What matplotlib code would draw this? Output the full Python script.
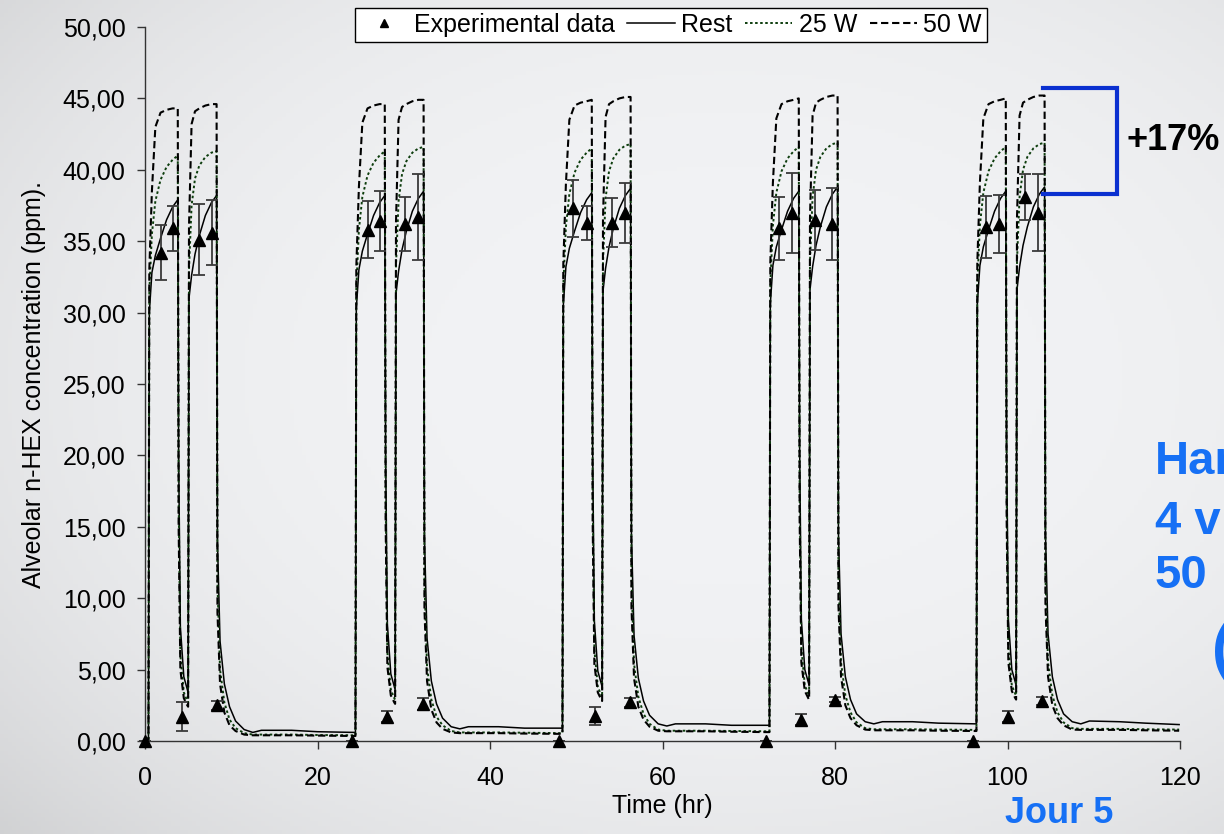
import numpy as np
import matplotlib
matplotlib.use("Agg")
import matplotlib.pyplot as plt
from matplotlib.lines import Line2D
from matplotlib.ticker import FuncFormatter

plt.rcParams['font.family'] = ['Liberation Sans', 'DejaVu Sans']

# Simulated alveolar n-hexane, five working days (hours after each day start)
day_starts = [0, 24, 48, 72, 96]
hours_in_day = [0.0, 0.4, 0.5, 0.8, 1.2, 1.8, 2.5, 3.2, 3.8, 3.9, 4.1, 4.5, 4.9, 5.0,
                5.1, 5.4, 5.8, 6.3, 7.0, 7.7, 8.3, 8.4, 8.7, 9.2, 9.8, 10.5, 11.5,
                12.5, 13.5, 17.0, 20.0, 23.9]

rest_by_day = [
    [0.0, 0.0, 30.0, 32.8, 34.0, 35.2, 36.5, 37.4, 37.9, 20.0, 8.0, 4.5, 3.6, 3.4,
     31.0, 32.6, 34.1, 35.4, 36.8, 37.7, 38.2, 14.0, 7.0, 4.0, 2.4, 1.4, 0.8,
     0.6, 0.75, 0.75, 0.65, 0.6],
    [0.6, 0.6, 30.3, 33.0, 34.3, 35.5, 36.8, 37.7, 38.2, 20.2, 8.2, 4.7, 3.8, 3.6,
     31.3, 32.9, 34.4, 35.7, 37.1, 38.0, 38.5, 14.3, 7.2, 4.2, 2.6, 1.6, 1.0,
     0.85, 1.0, 1.0, 0.9, 0.9],
    [0.9, 0.9, 30.5, 33.2, 34.5, 35.7, 37.0, 37.9, 38.4, 20.4, 8.4, 4.9, 4.0, 3.8,
     31.5, 33.1, 34.6, 35.9, 37.3, 38.2, 38.7, 14.5, 7.4, 4.4, 2.8, 1.8, 1.2,
     1.05, 1.2, 1.2, 1.1, 1.1],
    [1.1, 1.1, 30.6, 33.3, 34.6, 35.8, 37.1, 38.0, 38.5, 20.5, 8.5, 5.0, 4.1, 3.9,
     31.6, 33.2, 34.7, 36.0, 37.4, 38.3, 38.8, 14.6, 7.5, 4.5, 2.9, 1.9, 1.35,
     1.2, 1.35, 1.35, 1.25, 1.2],
    [1.2, 1.2, 30.6, 33.3, 34.6, 35.8, 37.1, 38.0, 38.5, 20.5, 8.5, 5.0, 4.1, 3.9,
     31.6, 33.2, 34.7, 36.0, 37.4, 38.3, 38.8, 14.6, 7.5, 4.5, 2.9, 1.9, 1.35,
     1.2, 1.4, 1.35, 1.25, 1.15],
]

w25_by_day = [
    [0.0, 0.0, 31.5, 35.5, 37.8, 39.3, 40.2, 40.7, 41.0, 17.0, 6.0, 3.4, 2.8, 2.7,
     33.0, 37.5, 39.4, 40.3, 40.9, 41.2, 41.3, 11.0, 5.0, 2.7, 1.5, 0.9, 0.55,
     0.45, 0.45, 0.45, 0.42, 0.4],
    [0.4, 0.4, 31.7, 35.8, 38.1, 39.6, 40.5, 41.0, 41.3, 17.2, 6.2, 3.6, 3.0, 2.9,
     33.3, 37.8, 39.7, 40.6, 41.2, 41.5, 41.6, 11.2, 5.2, 2.9, 1.7, 1.1, 0.7,
     0.6, 0.6, 0.6, 0.58, 0.55],
    [0.55, 0.55, 31.9, 36.0, 38.3, 39.8, 40.7, 41.2, 41.5, 17.4, 6.4, 3.8, 3.2, 3.1,
     33.5, 38.0, 39.9, 40.8, 41.4, 41.7, 41.8, 11.4, 5.4, 3.1, 1.9, 1.2, 0.8,
     0.72, 0.72, 0.72, 0.7, 0.68],
    [0.68, 0.68, 32.0, 36.1, 38.4, 39.9, 40.8, 41.3, 41.6, 17.5, 6.5, 3.9, 3.3, 3.2,
     33.6, 38.1, 40.0, 40.9, 41.5, 41.8, 41.9, 11.5, 5.5, 3.2, 2.0, 1.3, 0.9,
     0.82, 0.82, 0.82, 0.8, 0.78],
    [0.78, 0.78, 32.0, 36.1, 38.4, 39.9, 40.8, 41.3, 41.6, 17.5, 6.5, 3.9, 3.3, 3.2,
     33.6, 38.1, 40.0, 40.9, 41.5, 41.8, 41.9, 11.5, 5.5, 3.2, 2.0, 1.3, 0.9,
     0.85, 0.85, 0.85, 0.82, 0.8],
]

w50_by_day = [
    [0.0, 0.0, 33.0, 38.5, 43.0, 44.0, 44.2, 44.3, 44.3, 15.0, 5.0, 3.0, 2.5, 2.4,
     36.0, 43.2, 44.1, 44.3, 44.5, 44.6, 44.6, 9.0, 4.0, 2.0, 1.1, 0.7, 0.45,
     0.4, 0.4, 0.4, 0.38, 0.35],
    [0.35, 0.35, 33.2, 38.8, 43.3, 44.3, 44.5, 44.6, 44.6, 15.2, 5.2, 3.2, 2.7, 2.6,
     36.3, 43.5, 44.4, 44.6, 44.8, 44.9, 44.9, 9.2, 4.2, 2.2, 1.3, 0.85, 0.6,
     0.55, 0.55, 0.55, 0.52, 0.5],
    [0.5, 0.5, 33.4, 39.0, 43.5, 44.5, 44.7, 44.8, 44.9, 15.4, 5.4, 3.4, 2.9, 2.8,
     36.5, 43.7, 44.6, 44.8, 45.0, 45.1, 45.1, 9.4, 4.4, 2.4, 1.5, 1.0, 0.72,
     0.68, 0.68, 0.68, 0.65, 0.62],
    [0.62, 0.62, 33.5, 39.1, 43.6, 44.6, 44.8, 44.9, 45.0, 15.5, 5.5, 3.5, 3.0, 2.9,
     36.6, 43.8, 44.7, 44.9, 45.1, 45.2, 45.2, 9.5, 4.5, 2.5, 1.6, 1.1, 0.8,
     0.75, 0.75, 0.75, 0.72, 0.7],
    [0.7, 0.7, 33.5, 39.1, 43.6, 44.6, 44.8, 44.9, 45.0, 15.5, 5.5, 3.5, 3.0, 2.9,
     36.6, 43.8, 44.7, 44.9, 45.1, 45.2, 45.2, 9.5, 4.5, 2.5, 1.6, 1.1, 0.8,
     0.78, 0.78, 0.78, 0.75, 0.72],
]

# Measured alveolar concentrations (mean +/- sd)
exp_time = [0, 1.8, 3.3, 4.25, 6.3, 7.8, 8.3,
            24, 25.8, 27.2, 28.1, 30.1, 31.7, 32.2,
            48, 49.6, 51.3, 52.2, 54.1, 55.7, 56.2,
            72, 73.5, 75.0, 76.1, 77.7, 79.7, 80.0,
            96, 97.5, 99.0, 100.0, 102.0, 103.5, 104.0]
exp_conc = [0, 34.2, 35.9, 1.7, 35.1, 35.6, 2.5,
            0, 35.8, 36.4, 1.7, 36.2, 36.7, 2.6,
            0, 37.3, 36.3, 1.75, 36.3, 37.0, 2.7,
            0, 35.9, 37.0, 1.5, 36.5, 36.2, 2.9,
            0, 36.0, 36.2, 1.7, 38.1, 37.0, 2.8]
exp_sd = [0, 1.9, 1.6, 1.0, 2.5, 2.3, 0.3,
          0, 2.0, 2.1, 0.4, 1.9, 3.0, 0.4,
          0, 2.0, 1.2, 0.6, 1.7, 2.1, 0.3,
          0, 2.2, 2.8, 0.4, 2.1, 2.5, 0.2,
          0, 2.2, 2.05, 0.4, 1.6, 2.7, 0.3]

x_ticks = [0, 20, 40, 60, 80, 100, 120]
y_ticks = [0, 5, 10, 15, 20, 25, 30, 35, 40, 45, 50]

time = np.concatenate([s + np.array(hours_in_day) for s in day_starts])
rest = np.concatenate(rest_by_day)
w25 = np.concatenate(w25_by_day)
w50 = np.concatenate(w50_by_day)

W, H = 1224, 834
fig = plt.figure(figsize=(W / 100, H / 100), dpi=100)

# slide background: light grey, a little darker toward the corners
bg = fig.add_axes([0, 0, 1, 1], zorder=-10)
yy, xx = np.mgrid[0:1:200j, 0:1:300j]
r = np.sqrt(((xx - 0.6) / 0.8) ** 2 + ((yy - 0.45) / 0.8) ** 2)
shade = np.clip(1 - 0.13 * r ** 3, 0, 1)
base = np.array([242, 243, 245]) / 255.0
img = base[None, None, :] * shade[:, :, None]
bg.imshow(img, aspect='auto', extent=[0, 1, 0, 1], origin='upper')
bg.axis('off')

ax = fig.add_axes([145 / W, 93 / H, 1035 / W, 714 / H])
ax.set_facecolor('none')

ax.plot(time, rest, color='black', lw=1.1, zorder=3)
ax.plot(time, w25, color='#0d3d0d', lw=1.4, ls=(0, (1.3, 1.3)), zorder=3)
ax.plot(time, w50, color='black', lw=1.5, ls=(0, (3.5, 1.8)), zorder=3)

ax.errorbar(exp_time, exp_conc, yerr=exp_sd, fmt='^', color='black', ms=8,
            ecolor='#3a3a3a', elinewidth=1.3, capsize=4.5, capthick=1.3, zorder=5,
            clip_on=False)

ax.set_xlim(0, 120)
ax.set_ylim(0, 50)
ax.set_xticks(x_ticks)
ax.set_yticks(y_ticks)
ax.yaxis.set_major_formatter(FuncFormatter(lambda v, p: f"{v:.2f}".replace('.', ',')))
ax.tick_params(axis='both', labelsize=18, length=6, width=1, color='#333333', direction='out')
ax.tick_params(axis='x', pad=12)
ax.tick_params(axis='y', pad=8)
ax.spines['top'].set_visible(False)
ax.spines['right'].set_visible(False)
for s in ('left', 'bottom'):
    ax.spines[s].set_color('#333333')
    ax.spines[s].set_linewidth(1)
ax.set_xlabel('Time (hr)', fontsize=18, labelpad=3)
ax.set_ylabel('Alveolar n-HEX concentration (ppm).', fontsize=18, labelpad=12)

handles = [
    Line2D([], [], ls='none', marker='^', color='black', ms=6),
    Line2D([], [], color='black', lw=1.1),
    Line2D([], [], color='#0d3d0d', lw=1.4, ls=(0, (1.3, 1.3))),
    Line2D([], [], color='black', lw=1.5, ls=(0, (3.5, 1.8))),
]
labels = ['Experimental data', 'Rest', '25 W', '50 W']
leg = fig.legend(handles, labels, loc='center', bbox_to_anchor=(671 / W, 1 - 25 / H),
                 ncol=4, fontsize=18, frameon=True, fancybox=False, framealpha=1,
                 edgecolor='black', borderpad=0.2, handlelength=1.9,
                 handletextpad=0.25, columnspacing=0.5)
leg.get_frame().set_linewidth(1)

# bracket between the 50 W and rest peaks on day 5
peak50 = max(w50_by_day[-1])
peak_rest = max(rest_by_day[-1])
ax.plot([104.1, 112.7, 112.7, 104.1],
        [peak50 + 0.5, peak50 + 0.5, peak_rest - 0.5, peak_rest - 0.5],
        color='#0a30d0', lw=3, clip_on=False, solid_joinstyle='miter', zorder=6)
fig.text(1127 / W, 1 - 140 / H, "+17%", fontsize=26, fontweight='bold',
         color='black', va='center', ha='left')

blue = '#1670f5'
fig.text(1155 / W, 1 - 462 / H, 'Har', fontsize=34, fontweight='bold', color=blue, va='center')
fig.text(1155 / W, 1 - 522 / H, '4 v', fontsize=34, fontweight='bold', color=blue, va='center')
fig.text(1155 / W, 1 - 576 / H, '50', fontsize=34, fontweight='bold', color=blue, va='center')
fig.text(1212 / W, 1 - 652 / H, '(', fontsize=44, fontweight='bold', color=blue, va='center')
fig.text(1005 / W, 3 / H, 'Jour 5', fontsize=26, fontweight='bold', color=blue,
         va='bottom')

fig.savefig('out.png', dpi=100)
